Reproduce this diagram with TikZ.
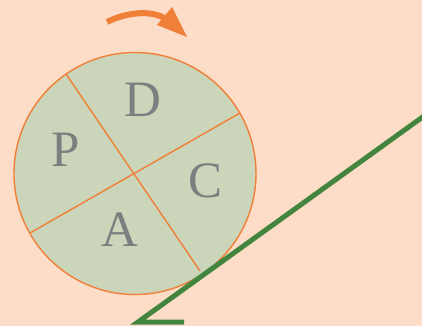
\documentclass[tikz,border=0pt]{standalone}
\usepackage{fontspec}
\setmainfont{Liberation Serif}
\definecolor{bgpeach}{HTML}{FDDDC7}
\definecolor{disc}{HTML}{CBD5BA}
\definecolor{orng}{HTML}{F07F38}
\definecolor{grn}{HTML}{43853F}
\definecolor{lettergray}{HTML}{7B7F80}
\begin{document}
\begin{tikzpicture}[x=1pt,y=-1pt,
  letter/.style={text=lettergray,font=\fontsize{51}{51}\selectfont,inner sep=0pt},
  rim/.style={draw=orng,line width=1.4pt}]
\fill[bgpeach] (0,0) rectangle (422,326);
\useasboundingbox (0,0) rectangle (422,326);
\coordinate (c) at (135,173.5);
\fill[disc] (c) circle (121);
\draw[rim] (c) circle (121);
\coordinate (l1a) at (66,74);
\coordinate (l1b) at (200,271);
\coordinate (l2a) at (240,113);
\coordinate (l2b) at (30,233);
\draw[rim] (l1a) -- (l1b);
\draw[rim] (l2a) -- (l2b);
\node[letter] (D) at (143,100) {D};
\node[letter] (P) at (66,150) {P};
\node[letter] (C) at (206,181) {C};
\node[letter] (A) at (120,230) {A};
% green slope
\coordinate (g1) at (424,116);
\coordinate (g2) at (138,322);
\coordinate (g3) at (184,322);
\draw[grn,line width=5pt,line join=miter] (g1) -- (g2) -- (g3);
% rotation arrow
\coordinate (s) at (107,22);
\coordinate (e) at (166,19);
\draw[orng,line width=6pt] (s) .. controls (125,13) and (150,9) .. (e);
\fill[orng] (172,7) -- (187,37) -- (157,25) -- cycle;
\end{tikzpicture}
\end{document}
